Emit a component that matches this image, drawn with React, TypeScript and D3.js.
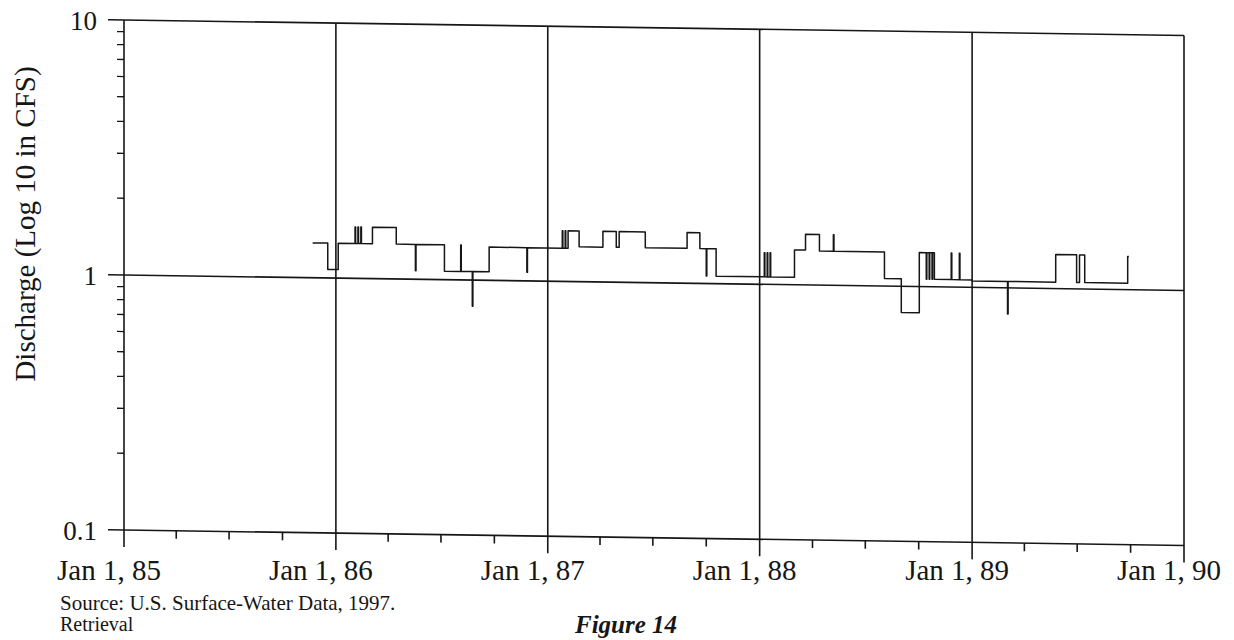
import * as d3 from "d3";

// discharge record (step changes)
const changeDates = [
  "1985-11-22", "1985-12-18", "1986-01-05", "1986-02-03", "1986-02-04", "1986-02-08",
  "1986-02-09", "1986-02-13", "1986-02-14", "1986-03-05", "1986-04-15", "1986-05-18",
  "1986-05-19", "1986-07-07", "1986-08-04", "1986-08-05", "1986-08-24", "1986-08-25",
  "1986-09-22", "1986-11-26", "1986-11-27", "1987-01-26", "1987-01-27", "1987-01-31",
  "1987-02-01", "1987-02-05", "1987-02-24", "1987-04-06", "1987-04-29", "1987-05-04",
  "1987-06-18", "1987-08-29", "1987-09-20", "1987-10-01", "1987-10-02", "1987-10-18",
  "1988-01-09", "1988-01-10", "1988-01-14", "1988-01-15", "1988-01-19", "1988-01-20",
  "1988-03-01", "1988-03-20", "1988-04-13", "1988-05-07", "1988-05-08", "1988-08-03",
  "1988-09-01", "1988-10-02", "1988-10-14", "1988-10-15", "1988-10-19", "1988-10-20",
  "1988-10-24", "1988-10-25", "1988-10-28", "1988-11-26", "1988-11-27", "1988-12-10",
  "1988-12-11", "1989-01-01", "1989-03-03", "1989-03-04", "1989-05-25", "1989-06-30",
  "1989-07-05", "1989-07-14", "1989-09-26", "1989-09-28",
];
const discharge = [
  1.37, 1.08, 1.37, 1.59, 1.37, 1.59,
  1.37, 1.59, 1.37, 1.59, 1.37, 1.08,
  1.37, 1.08, 1.37, 1.08, 0.79, 1.08,
  1.35, 1.08, 1.35, 1.58, 1.35, 1.58,
  1.35, 1.58, 1.37, 1.58, 1.37, 1.58,
  1.37, 1.58, 1.37, 1.07, 1.37, 1.07,
  1.33, 1.07, 1.33, 1.07, 1.33, 1.07,
  1.37, 1.58, 1.36, 1.58, 1.36, 1.07,
  0.79, 1.36, 1.07, 1.36, 1.07, 1.36,
  1.07, 1.36, 1.07, 1.36, 1.07, 1.36,
  1.07, 1.06, 0.79, 1.06, 1.36, 1.06,
  1.36, 1.06, 1.35, 1.35,
];

const yearTicks = ["1985-01-01", "1986-01-01", "1987-01-01", "1988-01-01", "1989-01-01", "1990-01-01"];
const xLabels = ["Jan 1, 85", "Jan 1, 86", "Jan 1, 87", "Jan 1, 88", "Jan 1, 89", "Jan 1, 90"];
const yTicks = [0.1, 1, 10];
const yLabels = ["0.1", "1", "10"];

const W = 1234;
const H = 640;
const x0 = 124;
const x1 = 1184;
const serif = "'Liberation Serif', 'Times New Roman', serif";
const ink = "#161616";

const App = () => {
  const parse = d3.timeParse("%Y-%m-%d");
  const x = d3.scaleTime().domain([parse(yearTicks[0]), parse(yearTicks[5])]).range([x0, x1]);
  const y = d3.scaleLog().domain([0.1, 10]).range([530, 20]);

  const data = changeDates.map((d, i) => ({ date: parse(d), v: discharge[i] }));
  const line = d3
    .line<{ date: Date; v: number }>()
    .x((d) => x(d.date))
    .y((d) => y(d.v))
    .curve(d3.curveStepAfter);

  const minorY = [2, 3, 4, 5, 6, 7, 8, 9].flatMap((m) => [m * 0.1, m]);
  const quarters = d3.timeMonth
    .every(3)
    .range(parse(yearTicks[0]), parse(yearTicks[5]))
    .filter((d) => d.getMonth() !== 0);
  const bottom = y(0.1);

  // the scan is slightly sheared: everything inside the frame drops to the right
  const skew = (Math.atan(0.0146) * 180) / Math.PI;

  return (
    <svg
      width={W}
      height={H}
      style={{ position: "absolute", left: 0, top: 0, background: "#fff" }}
      fontFamily={serif}
    >
      <g transform={`translate(${x0},0) skewY(${skew}) translate(${-x0},0)`} stroke={ink} fill="none">
        {/* horizontal frame / grid */}
        {yTicks.map((t) => (
          <line key={t} x1={x0 - 16} x2={x1} y1={y(t)} y2={y(t)} strokeWidth={1.6} />
        ))}
        {/* left axis */}
        <line x1={x0} x2={x0} y1={y(10)} y2={bottom + 17} strokeWidth={1.6} />
        {minorY.map((t) => (
          <line key={t} x1={x0 - 7} x2={x0} y1={y(t)} y2={y(t)} strokeWidth={1.3} />
        ))}
        {/* year grid lines */}
        {yearTicks.slice(1).map((d) => (
          <line key={d} x1={x(parse(d))} x2={x(parse(d))} y1={y(10)} y2={bottom + 17} strokeWidth={1.6} />
        ))}
        {quarters.map((d) => (
          <line key={+d} x1={x(d)} x2={x(d)} y1={bottom} y2={bottom + 8} strokeWidth={1.6} />
        ))}
        <path d={line(data) || ""} strokeWidth={1.5} strokeLinejoin="round" />
      </g>

      {yTicks.map((t, i) => (
        <text key={t} x={97} y={y(t) + 10} textAnchor="end" fontSize={27} fill={ink}>
          {yLabels[i]}
        </text>
      ))}
      {yearTicks.map((d, i) => (
        <text key={d} x={x(parse(d)) - 15} y={580} textAnchor="middle" fontSize={29} fill={ink}>
          {xLabels[i]}
        </text>
      ))}
      <text
        transform="translate(35,224) rotate(-90)"
        textAnchor="middle"
        fontSize={29}
        fill={ink}
      >
        Discharge (Log 10 in CFS)
      </text>
      <text x={60} y={610} fontSize={21} fill={ink}>
        Source: U.S. Surface-Water Data, 1997.
      </text>
      <text x={60} y={631} fontSize={20} fill={ink}>
        Retrieval
      </text>
      <text x={575} y={633} fontSize={25} fontWeight="bold" fontStyle="italic" fill={ink}>
        Figure 14
      </text>
    </svg>
  );
};

export default App;
